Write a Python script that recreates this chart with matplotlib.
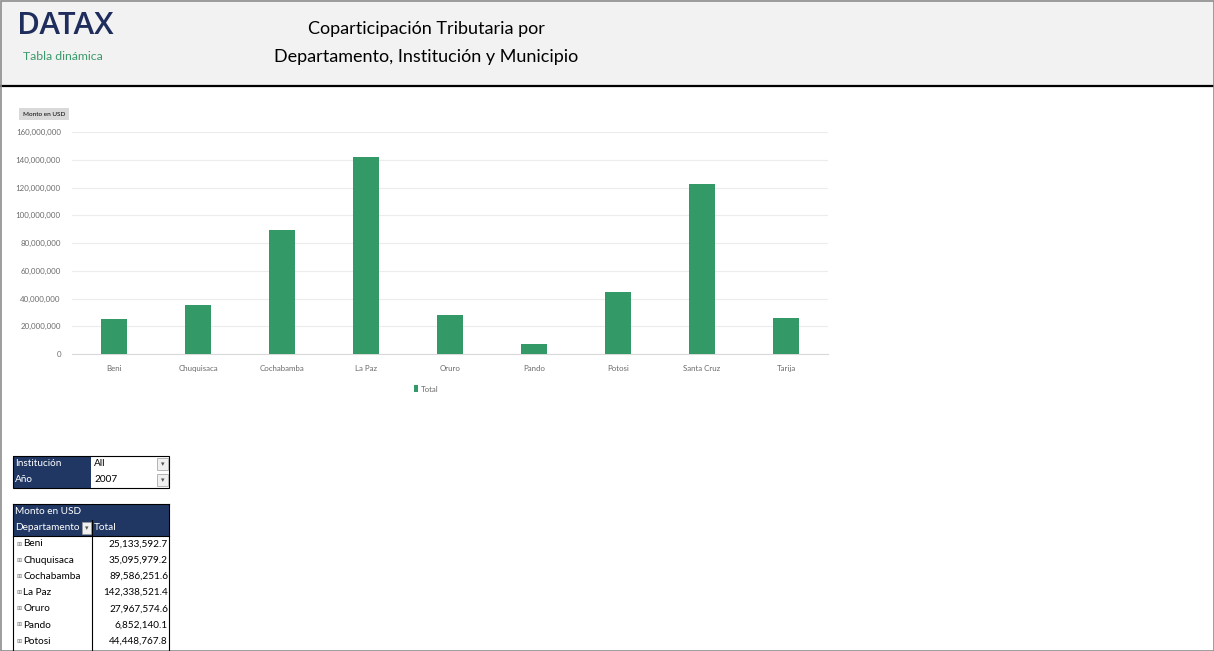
import matplotlib
matplotlib.use("Agg")
import matplotlib.pyplot as plt
from matplotlib.patches import Rectangle
from matplotlib.ticker import FuncFormatter

plt.rcParams['font.family'] = ['Lato', 'DejaVu Sans']

departamentos = ["Beni", "Chuquisaca", "Cochabamba", "La Paz", "Oruro", "Pando", "Potosi", "Santa Cruz", "Tarija"]
totales = [25133592.7, 35095979.2, 89586251.6, 142338521.4, 27967574.6, 6852140.1, 44448767.8, 122600000.0, 26000000.0]
tabla_nombres = ["Beni", "Chuquisaca", "Cochabamba", "La Paz", "Oruro", "Pando", "Potosi"]
tabla_valores = ["25,133,592.7", "35,095,979.2", "89,586,251.6", "142,338,521.4", "27,967,574.6", "6,852,140.1", "44,448,767.8"]
y_ticks = [0, 20e6, 40e6, 60e6, 80e6, 100e6, 120e6, 140e6, 160e6]

W, H = 1214, 651
fig = plt.figure(figsize=(W / 100, H / 100), dpi=100)
fig.patch.set_facecolor("white")

# overlay axes in pixel coordinates
ov = fig.add_axes([0, 0, 1, 1])
ov.set_xlim(0, W)
ov.set_ylim(H, 0)
ov.axis("off")

NAVY = "#203764"
GREEN = "#339966"

# header
ov.add_patch(Rectangle((0, 0), W, 86, facecolor="#f2f2f2", edgecolor="none", zorder=0))
ov.plot([0, W], [86, 86], color="black", lw=1.6, zorder=2)
# outer border
ov.add_patch(Rectangle((0.5, 0.5), W - 1, H - 1, facecolor="none", edgecolor="#8c8c8c", lw=1.2, zorder=3))

ov.text(17, 26, "DATAX", fontsize=22.5, fontweight="semibold", color="#1f2d5c", ha="left", va="center",
        family=["Open Sans", "DejaVu Sans"])
ov.text(23, 56, "Tabla dinámica", fontsize=8.8, color="#3a9a6a", ha="left", va="center")
ov.text(426, 29, "Coparticipación Tributaria por", fontsize=13, color="black", ha="center", va="center")
ov.text(426, 57, "Departamento, Institución y Municipio", fontsize=13, color="black", ha="center", va="center")

# pivot chart field button
ov.add_patch(Rectangle((19, 108), 50, 12, facecolor="#d9d9d9", edgecolor="none"))
ov.text(44, 114, "Monto en USD", fontsize=4.6, color="black", ha="center", va="center")

# chart
ax_l, ax_r, ax_t, ax_b = 72, 828, 132, 354
ax = fig.add_axes([ax_l / W, 1 - ax_b / H, (ax_r - ax_l) / W, (ax_b - ax_t) / H])
ax.set_facecolor("none")
x = list(range(len(departamentos)))
ax.bar(x, totales, width=0.31, color=GREEN, zorder=3, label="Total")
ax.set_xlim(-0.5, len(departamentos) - 0.5)
ax.set_ylim(0, 160e6)
ax.set_yticks(y_ticks)
ax.yaxis.set_major_formatter(FuncFormatter(lambda v, p: f"{v:,.0f}"))
ax.set_xticks(x)
ax.set_xticklabels(departamentos)
ax.tick_params(axis="both", length=0, labelsize=5.7, colors="#6b6b6b")
ax.tick_params(axis="x", pad=8)
ax.tick_params(axis="y", pad=8)
ax.grid(axis="y", color="#ececec", lw=0.8, zorder=0)
for s in ["top", "right", "left"]:
    ax.spines[s].set_visible(False)
ax.spines["bottom"].set_color("#d9d9d9")
ax.spines["bottom"].set_linewidth(0.8)
ax.legend(loc="center", bbox_to_anchor=((426 - ax_l) / (ax_r - ax_l), -(389 - ax_b) / (ax_b - ax_t)),
          frameon=False, fontsize=5.7, handlelength=0.5, handleheight=0.9, handletextpad=0.3,
          labelcolor="#6b6b6b")

# filter table
fs = 7.2
ov.add_patch(Rectangle((13, 456), 78, 32, facecolor=NAVY, edgecolor="none", zorder=2))
ov.add_patch(Rectangle((13, 456), 156, 32, facecolor="none", edgecolor="black", lw=0.8, zorder=3))
ov.text(15, 464, "Institución", fontsize=fs, color="white", va="center", zorder=4)
ov.text(15, 480, "Año", fontsize=fs, color="white", va="center", zorder=4)
ov.text(94, 464, "All", fontsize=fs, color="black", va="center", zorder=4)
ov.text(94, 480, "2007", fontsize=fs, color="black", va="center", zorder=4)
for yy in [458, 474]:
    ov.add_patch(Rectangle((157, yy), 11, 12, facecolor="#f0f0f0", edgecolor="#9a9a9a", lw=0.5, zorder=4))
    ov.text(162.5, yy + 6, "▾", fontsize=5, color="#555555", ha="center", va="center",
            family=["DejaVu Sans"], zorder=5)

# pivot table
ov.add_patch(Rectangle((13, 504), 156, 32, facecolor=NAVY, edgecolor="none", zorder=2))
ov.text(15, 512, "Monto en USD", fontsize=fs, color="white", va="center", zorder=4)
ov.text(15, 528, "Departamento", fontsize=fs, color="white", va="center", zorder=4)
ov.add_patch(Rectangle((82, 522), 9, 12, facecolor="#f0f0f0", edgecolor="#9a9a9a", lw=0.5, zorder=4))
ov.text(86.5, 528, "▾", fontsize=5, color="#555555", ha="center", va="center", family=["DejaVu Sans"], zorder=5)
ov.text(94, 528, "Total", fontsize=fs, color="white", va="center", zorder=4)
ov.plot([13, 13], [504, H], color="black", lw=0.8, zorder=3)
ov.plot([169, 169], [504, H], color="black", lw=0.8, zorder=3)
ov.plot([92, 92], [520, H], color="black", lw=0.8, zorder=3)
ov.plot([13, 169], [504, 504], color="black", lw=0.8, zorder=3)
ov.plot([13, 169], [536, 536], color="black", lw=0.8, zorder=3)
for i, (n, v) in enumerate(zip(tabla_nombres, tabla_valores)):
    yc = 544 + i * 16.2
    ov.text(16, yc, "⊞", fontsize=4.5, color="#777777", va="center", family=["DejaVu Sans"], zorder=4)
    ov.text(23, yc, n, fontsize=fs, color="black", va="center", zorder=4)
    ov.text(168, yc, v, fontsize=fs, color="black", va="center", ha="right", zorder=4)

fig.savefig("out.png", dpi=100, facecolor="white")
